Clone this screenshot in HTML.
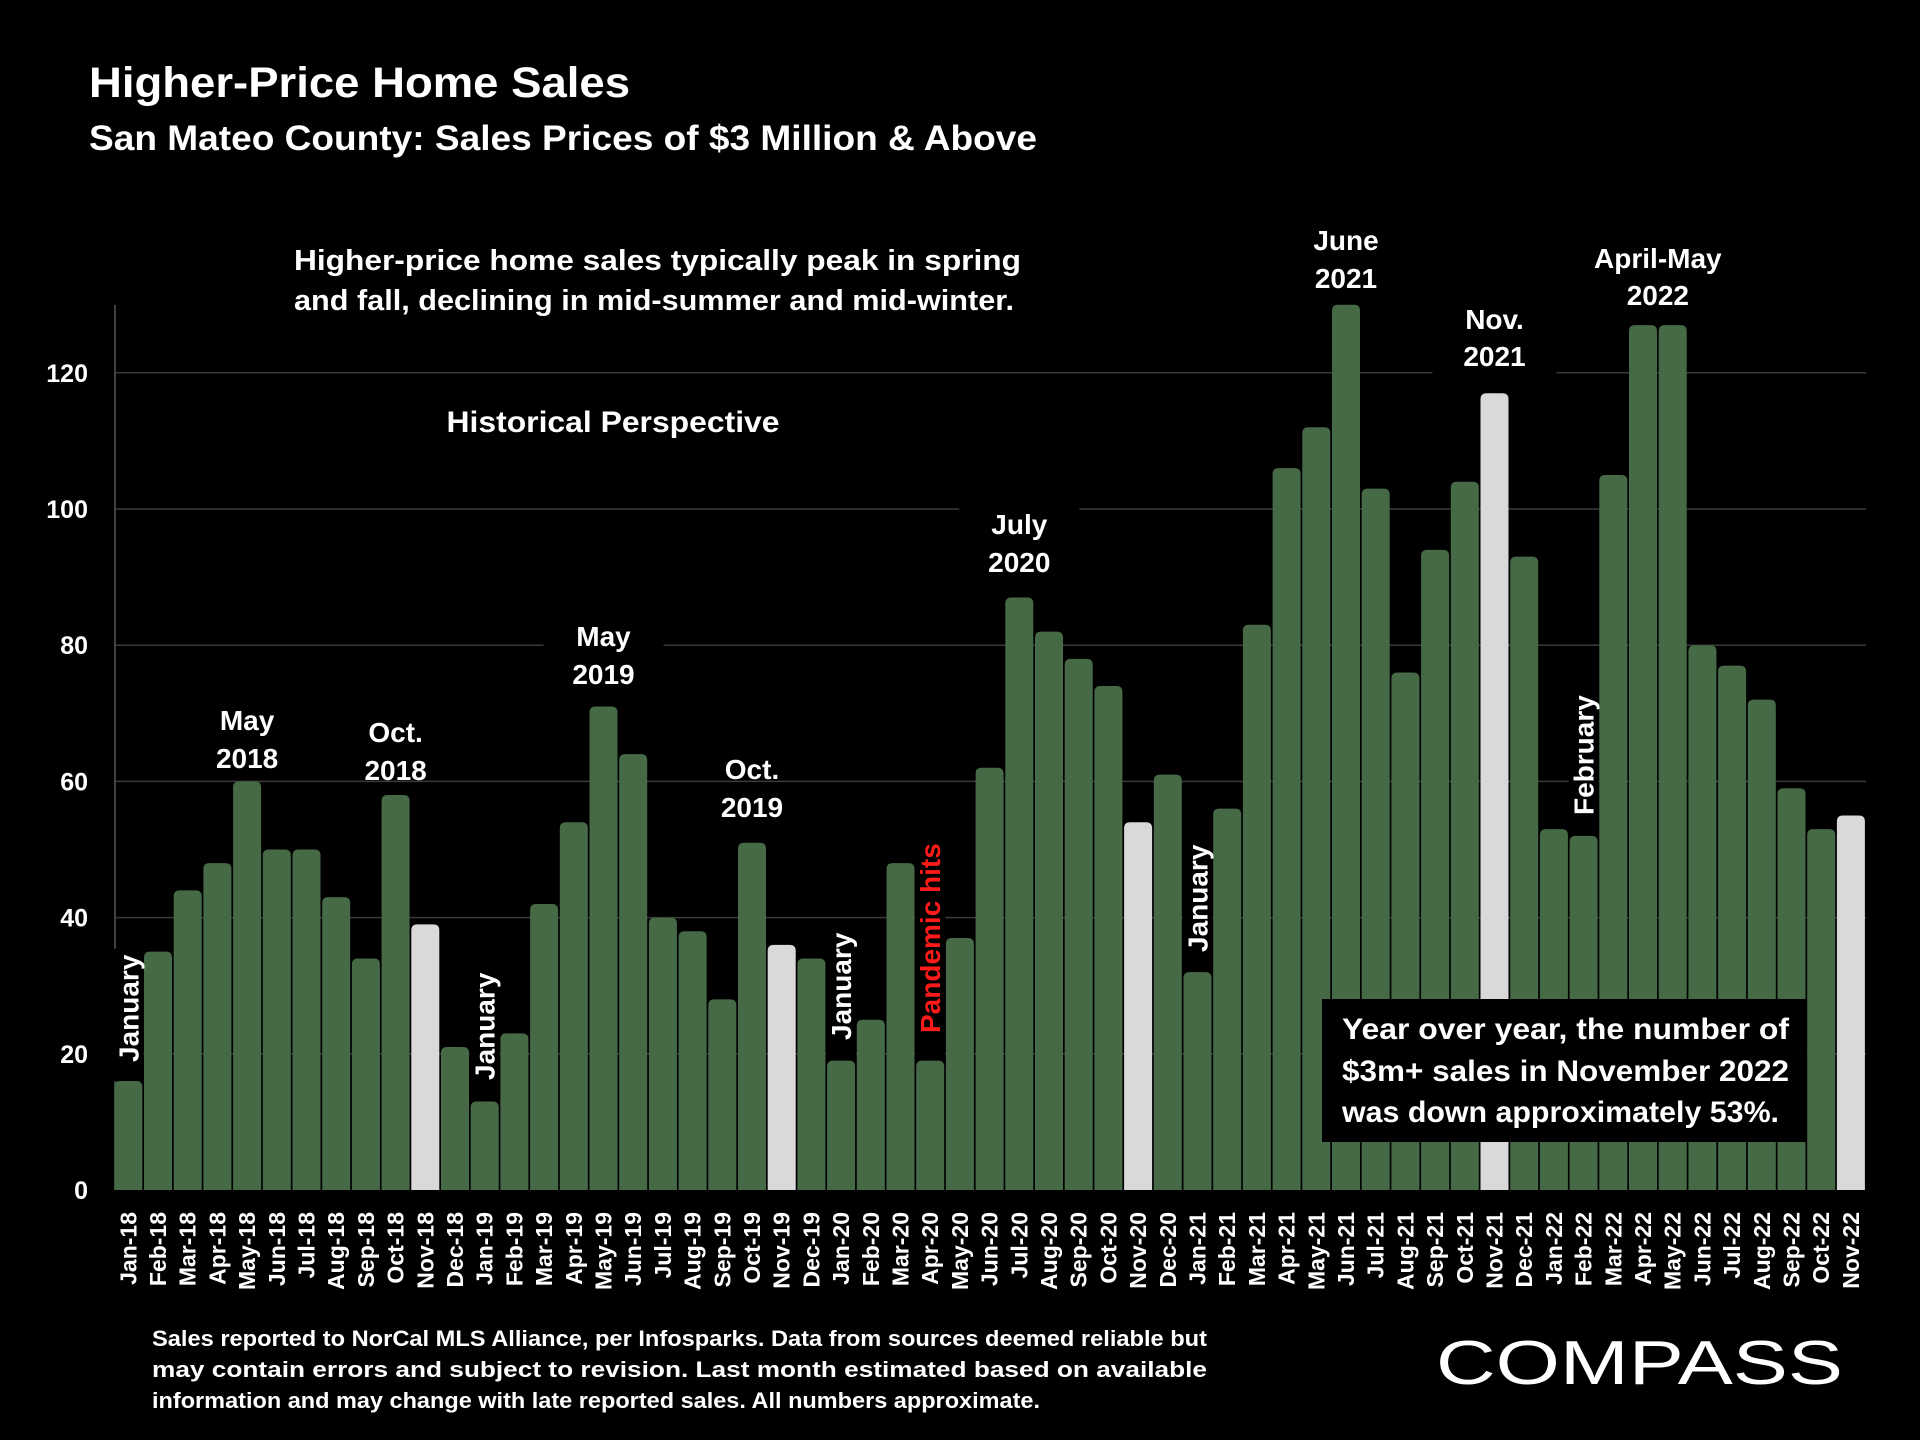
<!DOCTYPE html>
<html><head><meta charset="utf-8"><style>
html,body{margin:0;padding:0;background:#000;}
svg{display:block;font-family:"Liberation Sans",sans-serif;font-weight:bold;}
</style></head><body>
<svg id="chart" width="1920" height="1440" viewBox="0 0 1920 1440" xmlns="http://www.w3.org/2000/svg">
<rect width="1920" height="1440" fill="#000"/>
<text x="89" y="97" fill="#fff" font-size="43" textLength="541" lengthAdjust="spacingAndGlyphs">Higher-Price Home Sales</text>
<text x="89" y="150" fill="#fff" font-size="35" textLength="948" lengthAdjust="spacingAndGlyphs">San Mateo County: Sales Prices of $3 Million &amp; Above</text>
<g id="grid"></g>
<g id="ylabels"></g>
<line x1="115" y1="305" x2="115" y2="1190" stroke="#555" stroke-width="1.5"/>
<g id="bgs"></g>
<g id="bars"></g>
<g id="xlabels"></g>
<g id="notes"></g>
<g>
<text x="294" y="270" fill="#fff" font-size="29" textLength="727" lengthAdjust="spacingAndGlyphs">Higher-price home sales typically peak in spring</text>
<text x="294" y="310" fill="#fff" font-size="29" textLength="720" lengthAdjust="spacingAndGlyphs">and fall, declining in mid-summer and mid-winter.</text>
</g>
<text x="613" y="432" fill="#fff" font-size="30" text-anchor="middle" textLength="333" lengthAdjust="spacingAndGlyphs">Historical Perspective</text>
<g>
<rect x="1322" y="999" width="485" height="143" fill="#000"/>
<text x="1342" y="1039" fill="#fff" font-size="30" textLength="447" lengthAdjust="spacingAndGlyphs">Year over year, the number of</text>
<text x="1342" y="1081" fill="#fff" font-size="30" textLength="447" lengthAdjust="spacingAndGlyphs">$3m+ sales in November 2022</text>
<text x="1342" y="1122" fill="#fff" font-size="30" textLength="437" lengthAdjust="spacingAndGlyphs">was down approximately 53%.</text>
</g>
<g fill="#fff" font-size="22">
<text x="152" y="1346" textLength="1055" lengthAdjust="spacingAndGlyphs">Sales reported to NorCal MLS Alliance, per Infosparks. Data from sources deemed reliable but</text>
<text x="152" y="1377" textLength="1055" lengthAdjust="spacingAndGlyphs">may contain errors and subject to revision. Last month estimated based on available</text>
<text x="152" y="1408" textLength="888" lengthAdjust="spacingAndGlyphs">information and may change with late reported sales. All numbers approximate.</text>
</g>
<text x="1436" y="1384" fill="#fff" font-size="62" font-weight="normal" textLength="407" lengthAdjust="spacingAndGlyphs">COMPASS</text>
</svg>
<script>
const categories=["Jan-18","Feb-18","Mar-18","Apr-18","May-18","Jun-18","Jul-18","Aug-18","Sep-18","Oct-18","Nov-18","Dec-18","Jan-19","Feb-19","Mar-19","Apr-19","May-19","Jun-19","Jul-19","Aug-19","Sep-19","Oct-19","Nov-19","Dec-19","Jan-20","Feb-20","Mar-20","Apr-20","May-20","Jun-20","Jul-20","Aug-20","Sep-20","Oct-20","Nov-20","Dec-20","Jan-21","Feb-21","Mar-21","Apr-21","May-21","Jun-21","Jul-21","Aug-21","Sep-21","Oct-21","Nov-21","Dec-21","Jan-22","Feb-22","Mar-22","Apr-22","May-22","Jun-22","Jul-22","Aug-22","Sep-22","Oct-22","Nov-22"];
const sales=[16,35,44,48,60,50,50,43,34,58,39,21,13,23,42,54,71,64,40,38,28,51,36,34,19,25,48,19,37,62,87,82,78,74,54,61,32,56,83,106,112,130,103,76,94,104,117,93,53,52,105,127,127,80,77,72,59,53,55];
const highlighted=["Nov-18","Nov-19","Nov-20","Nov-21","Nov-22"];
const yTicks=[0,20,40,60,80,100,120];
const NS="http://www.w3.org/2000/svg";
const X0=114.3,PITCH=29.7,BW=28,Y0=1190,PPU=6.81;
function xPos(i){return X0+i*PITCH;}
function yPos(v){return Y0-v*PPU;}
function mk(tag,attrs,parent){const e=document.createElementNS(NS,tag);for(const k in attrs)e.setAttribute(k,attrs[k]);parent.appendChild(e);return e;}
const grid=document.getElementById('grid'),yl=document.getElementById('ylabels'),bars=document.getElementById('bars'),xl=document.getElementById('xlabels'),notes=document.getElementById('notes'),bgs=document.getElementById('bgs');
yTicks.forEach(t=>{
  if(t>0){const l=mk('line',{x1:115,x2:1866,y1:yPos(t),y2:yPos(t),stroke:'#3a3a3a','stroke-width':1.5},grid);
  
  }
  const tx=mk('text',{x:88,y:yPos(t)+9,fill:'#fff','font-size':25,'text-anchor':'end'},yl);tx.textContent=t;
  
  
});
function box(x,y,w,h,name){const r=mk('rect',{x:x,y:y,width:w,height:Math.max(0,h),fill:'#000'},bgs);

}
function cx(i){return xPos(i)+BW/2;}
box(cx(30)-60,505,120,80,'label-bg-july-2020');
box(cx(46)-62,305,124,90,'label-bg-nov-2021');
box(cx(16)-60,620,120,60,'label-bg-may-2019');
categories.forEach((c,i)=>{
  const v=sales[i],x=xPos(i),y=yPos(v),r=6;
  const fill=highlighted.includes(c)?'#d9d9d9':'#466946';
  const p=mk('path',{d:`M${x},${Y0}V${y+r}Q${x},${y} ${x+r},${y}H${x+BW-r}Q${x+BW},${y} ${x+BW},${y+r}V${Y0}Z`,fill:fill},bars);
  
  
  const t=mk('text',{x:0,y:0,fill:'#fff','font-size':23,'text-anchor':'end',transform:`translate(${x+BW/2+8},1212) rotate(-90)`},xl);
  t.textContent=c;
  
  
});
function lbl(x,lines,ys,name){lines.forEach((s,k)=>{const t=mk('text',{x:x,y:ys[k],fill:'#fff','font-size':28,'text-anchor':'middle'},notes);t.textContent=s;

});}
lbl(cx(4),['May','2018'],[730,768],'label-may-2018');
lbl(cx(9),['Oct.','2018'],[742,780],'label-oct-2018');
lbl(cx(16),['May','2019'],[646,684],'label-may-2019');
lbl(cx(21),['Oct.','2019'],[779,817],'label-oct-2019');
lbl(cx(30),['July','2020'],[534,572],'label-july-2020');
lbl(cx(41),['June','2021'],[250,288],'label-june-2021');
lbl(cx(46),['Nov.','2021'],[329,366],'label-nov-2021');
lbl((cx(51)+cx(52))/2,['April-May','2022'],[268,305],'label-april-may-2022');
function vlbl(i,yBottom,s,color,name){const t=mk('text',{x:0,y:0,fill:color,'font-size':28,transform:`translate(${cx(i)+10},${yBottom}) rotate(-90)`},notes);t.textContent=s;


const len=t.getComputedTextLength();
box(xPos(i)-1,yBottom-len-6,BW+2,yPos(sales[i])-(yBottom-len-6),name+'-bg');}
vlbl(0,1062,'January','#fff','label-january-2018');
vlbl(12,1080,'January','#fff','label-january-2019');
vlbl(24,1040,'January','#fff','label-january-2020');
vlbl(27,1033,'Pandemic hits','#ff1a1a','label-pandemic-hits');
vlbl(36,952,'January','#fff','label-january-2021');
vlbl(49,815,'February','#fff','label-february-2022');
</script>
</body></html>
